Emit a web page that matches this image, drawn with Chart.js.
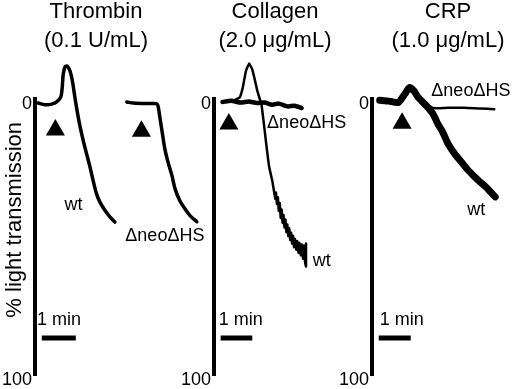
<!DOCTYPE html>
<html>
<head>
<meta charset="utf-8">
<script src="https://cdn.jsdelivr.net/npm/chart.js@4.4.1/dist/chart.umd.min.js"></script>
<style>
  html, body { margin: 0; padding: 0; background: #fff; }
  #wrap { position: relative; width: 520px; height: 389px; overflow: hidden; background: #fff; }
  #wrap canvas { position: absolute; top: 0; }
</style>
</head>
<body>
<div id="wrap">
  <canvas id="thrombin"></canvas>
  <canvas id="collagen"></canvas>
  <canvas id="crp"></canvas>
</div>
<script>
// traces: x = minutes from the y axis, y = % light transmission
const yTicks = [0, 100];
const yTitle = '% light transmission';

const titles = [
  ['Thrombin', '(0.1 U/mL)'],
  ['Collagen', '(2.0 \u03bcg/mL)'],
  ['CRP', '(1.0 \u03bcg/mL)']
];

// Thrombin
const thrombinWt = [[0.09,1.4],[0.29,2.0],[0.49,1.8],[0.64,1.0],[0.76,-0.8],[0.80,-4.2],[0.83,-9.0],
  [0.88,-11.7],[0.95,-12.0],[1.03,-10.2],[1.10,-6.6],[1.16,-1.8],[1.23,3.6],[1.32,9.6],[1.42,15.1],
  [1.52,19.9],[1.62,24.7],[1.71,29.5],[1.81,34.3],[1.91,37.3],[2.06,40.3],[2.21,42.7],[2.35,44.5]];
const thrombinKo = [[2.70,1.0],[2.89,1.4],[3.29,1.6],[3.58,1.6],[3.62,2.5],[3.68,7.2],[3.74,11.9],
  [3.82,18.1],[3.91,22.7],[4.03,27.8],[4.12,32.5],[4.26,36.8],[4.41,39.7],[4.56,42.2],[4.76,44.4]];
const thrombinArrows = [[0.60,11.2],[3.13,11.6]];

// Collagen
const collagenWt = [[0.27,1.0],[0.55,0.8],[0.81,-0.6],[0.91,-4.2],[1.01,-10.2],[1.11,-12.9],[1.21,-10.8],
  [1.30,-6.6],[1.37,-3.0],[1.45,0.0],[1.50,1.8],[1.56,7.2],[1.65,16.0],[1.74,24.2],[1.85,30.0],
  [1.94,36.1],[1.96,33.8],[1.99,38.0],[2.02,35.5],[2.05,40.5],[2.08,37.6],[2.11,43.0],[2.14,40.0],
  [2.17,44.8],[2.20,42.0],[2.23,46.5],[2.26,43.6],[2.29,48.2],[2.32,45.4],[2.35,49.6],[2.38,46.8],
  [2.41,51.0],[2.44,48.4],[2.47,52.3],[2.50,49.5],[2.53,53.6],[2.56,50.6],[2.60,54.5],[2.63,51.4],
  [2.67,55.6],[2.70,52.0],[2.74,56.5],[2.77,52.6],[2.81,57.8],[2.84,53.0],[2.88,59.0],[2.91,60.6],
  [2.91,52.3]];
const collagenKo = [[0.27,1.0],[0.55,0.6],[0.85,1.2],[1.10,0.8],[1.35,1.4],[1.60,1.2],[1.84,2.0],
  [2.05,1.6],[2.33,2.6],[2.55,2.4],[2.77,3.2]];
const collagenArrows = [[0.47,9.0]];

// CRP
const crpWt = [[0.24,0.4],[0.53,0.7],[0.82,1.2],[1.02,-1.8],[1.17,-4.2],[1.31,-3.0],[1.44,-0.7],
  [1.71,2.5],[1.91,5.4],[2.06,9.0],[2.21,11.9],[2.38,16.2],[2.59,19.9],[2.79,22.7],[2.97,25.3],
  [3.18,27.8],[3.38,30.0],[3.56,31.8],[3.76,34.3],[3.85,35.4]];
const crpKo = [[0.24,0.4],[0.82,1.2],[1.17,-3.0],[1.44,-0.7],[1.71,1.8],[1.91,3.2],[2.38,3.1],
  [2.88,3.1],[3.38,3.4],[3.82,3.6]];
const crpArrows = [[0.94,8.7]];

// trace labels: text, minutes, %
const thrombinLabels = [['wt',1.13,38.2],['\u0394neo\u0394HS',3.82,49.5]];
const collagenLabels = [['\u0394neo\u0394HS',2.93,8.7],['wt',3.41,58.5]];
const crpLabels = [['\u0394neo\u0394HS',3.09,-2.9],['wt',3.26,40.1]];

// 1 minute scale bars: start (min), level (%)
const barLength = 1;
const barStarts = [0.2, 0.21, 0.21];
const barLevel = 86.5;
const barTextStarts = [0.06, 0.15, 0.24];
const barTextLevel = 80.1;

// layout
const PX_PER_MIN = 34;
const AXIS_W = 35;
const FONT = '"Liberation Sans", Arial, Helvetica, sans-serif';
Chart.defaults.font.family = FONT;
Chart.defaults.color = '#000';

const textPlugin = {
  id: 'traceText',
  afterDatasetsDraw(chart, args, opts) {
    const {ctx, scales: {x, y}} = chart;
    ctx.save();
    ctx.fillStyle = '#000';
    ctx.textBaseline = 'middle';
    (opts.items || []).forEach(it => {
      ctx.font = '18px ' + FONT;
      ctx.textAlign = it.align || 'center';
      ctx.fillText(it.text, x.getPixelForValue(it.x), y.getPixelForValue(it.y));
    });
    if (opts.yTitle) {
      ctx.translate(x.left - 20, y.getPixelForValue(43.7));
      ctx.rotate(-Math.PI / 2);
      ctx.textAlign = 'center';
      ctx.font = '22px ' + FONT;
      ctx.fillText(opts.yTitle, 0, 0);
    }
    ctx.restore();
  }
};

const pts = arr => arr.map(([x, y]) => ({x, y}));

function trace(arr, width, tension) {
  return {
    data: pts(arr), borderColor: '#000', borderWidth: width, pointRadius: 0,
    tension: tension, fill: false, clip: false, borderJoinStyle: 'round', borderCapStyle: 'round'
  };
}

function makePanel(id, p) {
  const cv = document.getElementById(id);
  cv.width = p.width; cv.height = 389;
  cv.style.left = p.left + 'px';
  cv.style.width = p.width + 'px'; cv.style.height = '389px';
  const xMax = (p.left + p.width - p.padRight - (p.left + AXIS_W)) / PX_PER_MIN;

  const datasets = p.traces.map(t => trace(t[0], t[1], t[2]));
  datasets.push({
    type: 'scatter', data: pts(p.arrows), pointStyle: 'triangle', pointRadius: 11,
    backgroundColor: '#000', borderColor: '#000', borderWidth: 0, clip: false
  });
  datasets.push({
    data: [{x: p.bar, y: barLevel}, {x: p.bar + barLength, y: barLevel}],
    borderColor: '#000', borderWidth: 5, pointRadius: 0, borderCapStyle: 'butt', clip: false
  });

  const items = p.labels.map(([text, x, y]) => ({text, x, y}));
  items.push({text: '1 min', x: p.barText, y: barTextLevel, align: 'left'});

  return new Chart(cv, {
    type: 'line',
    data: {datasets},
    options: {
      responsive: false,
      animation: false,
      events: [],
      layout: {padding: {top: 0, left: 0, right: p.padRight, bottom: 12}},
      plugins: {
        legend: {display: false},
        tooltip: {enabled: false},
        title: {
          display: true, text: p.title, color: '#000',
          font: {size: 22, weight: 'normal', lineHeight: 1.3},
          padding: {top: -2, bottom: 44}
        },
        traceText: {items, yTitle: p.yTitle}
      },
      scales: {
        x: {type: 'linear', display: false, min: 0, max: xMax},
        y: {
          min: 0, max: 100, reverse: true,
          afterFit: s => { s.width = AXIS_W; },
          afterBuildTicks: s => { s.ticks = yTicks.map(v => ({value: v})); },
          grid: {display: false, drawTicks: false},
          border: {display: true, color: '#000', width: 4},
          ticks: {color: '#000', font: {size: 18}, padding: 3, labelOffset: 5}
        }
      }
    },
    plugins: [textPlugin]
  });
}

makePanel('thrombin', {
  left: 0, width: 207, padRight: 15, title: titles[0],
  traces: [[thrombinWt, 3.5, 0.3], [thrombinKo, 3.5, 0.3]],
  arrows: thrombinArrows, labels: thrombinLabels,
  bar: barStarts[0], barText: barTextStarts[0], yTitle: yTitle
});
makePanel('collagen', {
  left: 179, width: 192, padRight: 0, title: titles[1],
  traces: [[collagenKo, 4.5, 0.2], [collagenWt, 2.5, 0.1]],
  arrows: collagenArrows, labels: collagenLabels,
  bar: barStarts[1], barText: barTextStarts[1]
});
makePanel('crp', {
  left: 337, width: 222, padRight: 0, title: titles[2],
  traces: [[crpKo, 2.5, 0.2], [crpWt, 7, 0.2]],
  arrows: crpArrows, labels: crpLabels,
  bar: barStarts[2], barText: barTextStarts[2]
});
</script>
</body>
</html>
